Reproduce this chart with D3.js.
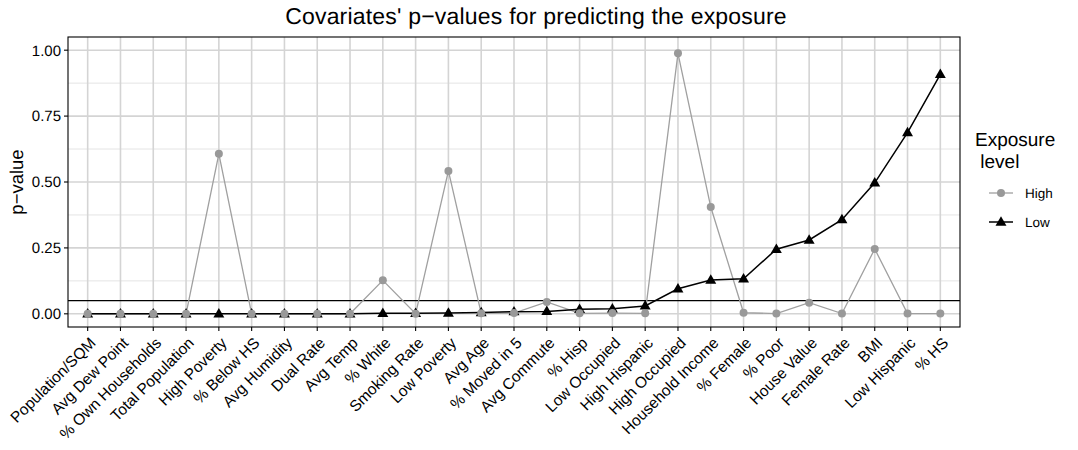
<!DOCTYPE html>
<meta charset="utf-8">
<style>
    body { margin: 0; background: #fff; }
    text { font-family: "Liberation Sans", Arial, sans-serif; text-rendering: geometricPrecision; }
    .tick-label { font-size: 15px; fill: #000; }
</style>
<body>
<svg id="chart" width="1078" height="450"></svg>
<script src="https://d3js.org/d3.v7.min.js"></script>
<script>
    // covariates, in plotted order
    var covariates = ["Population/SQM", "Avg Dew Point", "% Own Households", "Total Population",
        "High Poverty", "% Below HS", "Avg Humidity", "Dual Rate", "Avg Temp", "% White",
        "Smoking Rate", "Low Poverty", "Avg Age", "% Moved in 5", "Avg Commute", "% Hisp",
        "Low Occupied", "High Hispanic", "High Occupied", "Household Income", "% Female",
        "% Poor", "House Value", "Female Rate", "BMI", "Low Hispanic", "% HS"];

    // p-values
    var highValues = [0, 0, 0, 0, 0.607, 0, 0, 0, 0, 0.127,
        0, 0.542, 0.002, 0.003, 0.045, 0.002, 0.003, 0.002, 0.988, 0.405,
        0.004, 0.001, 0.042, 0.001, 0.246, 0.001, 0.001];
    var lowValues = [0, 0, 0, 0, 0, 0, 0, 0, 0, 0.002,
        0.002, 0.003, 0.005, 0.008, 0.009, 0.017, 0.019, 0.03, 0.095, 0.128,
        0.133, 0.245, 0.28, 0.357, 0.497, 0.687, 0.908];

    var yTicks = [0, 0.25, 0.5, 0.75, 1];
    var yMinor = [0.125, 0.375, 0.625, 0.875];
    var cutoff = 0.05;

    var svg = d3.select("#chart");
    var pLeft = 68, pRight = 960, pTop = 37, pBottom = 327;

    var x = d3.scalePoint()
        .domain(covariates)
        .range([pLeft, pRight])
        .padding(0.6);

    // limits 0..1 with 5% expansion
    var y = d3.scaleLinear()
        .domain([-0.05, 1.05])
        .range([pBottom, pTop]);

    var series = [
        { name: "High", values: highValues, color: "#a0a0a0", pt: "#999999", width: 1.3 },
        { name: "Low", values: lowValues, color: "#000000", pt: "#000000", width: 1.5 }
    ];

    // grid
    var grid = svg.append("g");
    grid.selectAll(".minor").data(yMinor).enter().append("line")
        .attr("x1", pLeft).attr("x2", pRight)
        .attr("y1", function(d) { return y(d); }).attr("y2", function(d) { return y(d); })
        .attr("stroke", "#e4e4e4").attr("stroke-width", 1);
    grid.selectAll(".major").data(yTicks).enter().append("line")
        .attr("x1", pLeft).attr("x2", pRight)
        .attr("y1", function(d) { return y(d); }).attr("y2", function(d) { return y(d); })
        .attr("stroke", "#d4d4d4").attr("stroke-width", 1.6);
    grid.selectAll(".vert").data(covariates).enter().append("line")
        .attr("x1", function(d) { return x(d); }).attr("x2", function(d) { return x(d); })
        .attr("y1", pTop).attr("y2", pBottom)
        .attr("stroke", "#d4d4d4").attr("stroke-width", 1.6);

    // cutoff line
    svg.append("line")
        .attr("x1", pLeft).attr("x2", pRight)
        .attr("y1", y(cutoff)).attr("y2", y(cutoff))
        .attr("stroke", "#000").attr("stroke-width", 1.1);

    var line = d3.line()
        .x(function(d, i) { return x(covariates[i]); })
        .y(function(d) { return y(d); });

    series.forEach(function(s) {
        svg.append("path")
            .attr("d", line(s.values))
            .attr("fill", "none")
            .attr("stroke", s.color)
            .attr("stroke-width", s.width);
    });

    var tri = d3.symbol().type(d3.symbolTriangle).size(52);

    // low triangles first, high circles on top
    svg.append("g").selectAll("path").data(lowValues).enter().append("path")
        .attr("d", tri)
        .attr("transform", function(d, i) { return "translate(" + x(covariates[i]) + "," + (y(d) + 0.5) + ")"; })
        .attr("fill", "#000");
    svg.append("g").selectAll("circle").data(highValues).enter().append("circle")
        .attr("cx", function(d, i) { return x(covariates[i]); })
        .attr("cy", function(d) { return y(d); })
        .attr("r", 4)
        .attr("fill", "#999999");

    // panel border
    svg.append("rect")
        .attr("x", pLeft).attr("y", pTop)
        .attr("width", pRight - pLeft).attr("height", pBottom - pTop)
        .attr("fill", "none").attr("stroke", "#000").attr("stroke-width", 1.1);

    // y axis
    var yAxis = svg.append("g");
    yAxis.selectAll("line").data(yTicks).enter().append("line")
        .attr("x1", pLeft - 4).attr("x2", pLeft)
        .attr("y1", function(d) { return y(d); }).attr("y2", function(d) { return y(d); })
        .attr("stroke", "#000").attr("stroke-width", 1.1);
    yAxis.selectAll("text").data(yTicks).enter().append("text")
        .attr("class", "tick-label")
        .attr("x", pLeft - 7)
        .attr("y", function(d) { return y(d); })
        .attr("dy", "0.36em")
        .attr("text-anchor", "end")
        .text(function(d) { return d3.format(".2f")(d); });

    // x axis
    var xAxis = svg.append("g");
    xAxis.selectAll("line").data(covariates).enter().append("line")
        .attr("x1", function(d) { return x(d); }).attr("x2", function(d) { return x(d); })
        .attr("y1", pBottom).attr("y2", pBottom + 4)
        .attr("stroke", "#000").attr("stroke-width", 1.1);
    xAxis.selectAll("text").data(covariates).enter().append("text")
        .attr("class", "tick-label")
        .style("font-size", "15.5px")
        .attr("transform", function(d) { return "translate(" + (x(d) + 1) + "," + (pBottom + 9) + ") rotate(-45)"; })
        .attr("dy", "0.72em")
        .attr("text-anchor", "end")
        .text(function(d) { return d; });

    // titles
    svg.append("text")
        .attr("x", 536).attr("y", 24)
        .attr("text-anchor", "middle")
        .style("font-size", "23px")
        .style("letter-spacing", "0.2px")
        .text("Covariates' p\u2212values for predicting the exposure");

    svg.append("text")
        .attr("transform", "translate(23," + ((pTop + pBottom) / 2) + ") rotate(-90)")
        .attr("text-anchor", "middle")
        .style("font-size", "18.5px")
        .text("p\u2212value");

    // legend
    var legend = svg.append("g").attr("transform", "translate(975,0)");
    legend.append("text").attr("x", 0).attr("y", 146).style("font-size", "19px").text("Exposure");
    legend.append("text").attr("x", 0).attr("y", 168).style("font-size", "19px").text("\u00a0level");

    var keys = legend.selectAll(".key").data(series).enter().append("g")
        .attr("transform", function(d, i) { return "translate(0," + (193 + i * 29) + ")"; });
    keys.append("line")
        .attr("x1", 14).attr("x2", 38)
        .attr("stroke", function(d) { return d.color; })
        .attr("stroke-width", function(d) { return d.width; });
    keys.each(function(d) {
        var g = d3.select(this);
        if (d.name === "High") {
            g.append("circle").attr("cx", 26).attr("cy", 0).attr("r", 4).attr("fill", d.pt);
        } else {
            g.append("path").attr("d", tri).attr("transform", "translate(26,0.5)").attr("fill", d.pt);
        }
    });
    keys.append("text")
        .attr("class", "tick-label")
        .style("font-size", "13.5px")
        .attr("x", 50).attr("dy", "0.36em")
        .text(function(d) { return d.name; });
</script>
</body>
